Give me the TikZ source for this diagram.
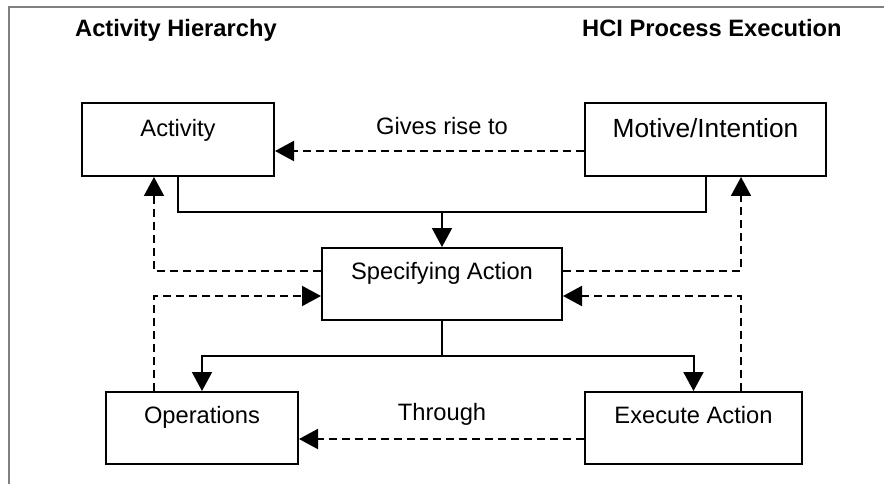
\documentclass[tikz,border=0pt]{standalone}
\usepackage{fontspec}
\setmainfont{Liberation Sans}
\usetikzlibrary{arrows.meta}
\begin{document}
\begin{tikzpicture}[x=1pt,y=-1pt,
  box/.style={draw, line width=2pt, inner sep=0pt, font=\fontsize{23.7}{28}\selectfont},
  lbl/.style={font=\fontsize{23.7}{28}\selectfont, inner sep=0pt, anchor=base},
  ttl/.style={font=\fontsize{23.7}{28}\selectfont\bfseries, inner sep=0pt, anchor=base west},
  conn/.style={line width=2pt},
  arr/.style={conn, -{Triangle[length=19pt,width=20pt]}},
  darr/.style={arr, dash pattern=on 8pt off 5pt},
]
\useasboundingbox (0,0) rectangle (884,484);
\draw[black!50, line width=1.5pt] (9,484) -- (9,7) -- (884,7);

\node[ttl] (t1) at (75,37) {Activity Hierarchy};
\node[ttl] (t2) at (582,37) {HCI Process Execution};

\node[box, minimum width=192pt, text height=33.5pt, text depth=39.5pt] (act) at (178,139.5) {Activity};
\node[box, minimum width=241pt, text height=35pt, text depth=38pt, font=\fontsize{26.3}{30}\selectfont] (mot) at (705.5,139.5) {Motive/Intention};
\node[box, minimum width=240pt, text height=31.5pt, text depth=40.5pt] (spec) at (442,284) {Specifying Action};
\node[box, minimum width=192pt, text height=31.5pt, text depth=40.5pt] (ops) at (202,428) {Operations};
\node[box, minimum width=217pt, text height=31.5pt, text depth=40.5pt] (exe) at (693.5,428) {Execute Action};

\node[lbl] (g) at (442,134.5) {Gives rise to};
\node[lbl] (th) at (442,420.5) {Through};

\coordinate (j1) at (442,212);
\draw[conn] (act.south) |- (j1) -| (mot.south);
\draw[arr] (j1) -- (spec.north);
\coordinate (j2) at (442,356);
\draw[conn] (spec.south) -- (j2);
\draw[arr] (j2) -| (ops.north);
\draw[arr] (j2) -| (exe.north);

\draw[darr] ([yshift=-11.5pt]mot.west) -- ([yshift=-11.5pt]act.east);
\draw[darr] ([yshift=13pt]spec.west) -| ([xshift=73pt]act.south west);
\draw[darr] ([yshift=13pt]spec.east) -| ([xshift=157pt]mot.south west);
\draw[darr] ([xshift=49pt]ops.north west) |- ([yshift=-12pt]spec.west);
\draw[darr] ([xshift=157pt]exe.north west) |- ([yshift=-12pt]spec.east);
\draw[darr] ([yshift=-11pt]exe.west) -- ([yshift=-11pt]ops.east);
\end{tikzpicture}
\end{document}
